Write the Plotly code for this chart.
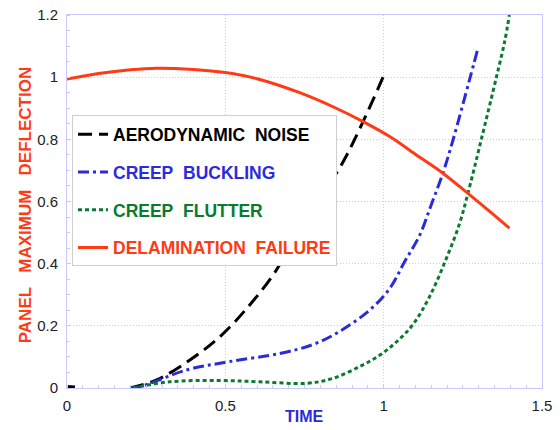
import plotly.graph_objects as go

# Aerodynamic noise (black long dash)
noise_x = [0.0, 0.025, None, 0.199, 0.283, 0.388, 0.483, 0.577, 0.651, 0.693, 0.766, 0.866, 0.935, 0.998]
noise_y = [0.005, 0.003, None, 0.0, 0.026, 0.090, 0.165, 0.267, 0.364, 0.433, 0.560, 0.717, 0.857, 1.0]

# Creep buckling (blue dash-dot)
buck_x = [0.20, 0.23, 0.378, 0.514, 0.672, 0.777, 0.861, 0.956, 1.019, 1.066, 1.114, 1.15, 1.187, 1.219, 1.271, 1.297]
buck_y = [0.0, 0.004, 0.058, 0.085, 0.111, 0.140, 0.182, 0.251, 0.320, 0.406, 0.492, 0.589, 0.691, 0.798, 0.991, 1.09]

# Creep flutter (green dotted)
flut_x = [0.209, 0.325, 0.483, 0.609, 0.756, 0.84, 0.924, 0.987, 1.04, 1.093, 1.145, 1.198, 1.24, 1.266, 1.308, 1.356, 1.382, 1.397]
flut_y = [0.0, 0.020, 0.024, 0.020, 0.015, 0.031, 0.069, 0.105, 0.148, 0.205, 0.294, 0.417, 0.530, 0.626, 0.798, 1.0, 1.114, 1.2]

# Delamination failure (red solid)
dela_x = [0.0, 0.1, 0.2, 0.283, 0.4, 0.5, 0.6, 0.735, 0.85, 0.935, 1.019, 1.1, 1.187, 1.266, 1.33, 1.397]
dela_y = [0.994, 1.012, 1.024, 1.029, 1.025, 1.015, 0.995, 0.950, 0.900, 0.857, 0.809, 0.752, 0.691, 0.626, 0.572, 0.514]

x_ticks = [0, 0.5, 1, 1.5]
y_ticks = [0, 0.2, 0.4, 0.6, 0.8, 1.0, 1.2]
y_tick_text = ["0", "0.2", "0.4", "0.6", "0.8", "1", "1.2"]
x_tick_text = ["0", "0.5", "1", "1.5"]

BLACK = "#000000"
BLUE = "#2b2bd9"
GREEN = "#0a7a2f"
RED = "#ff3a14"
GRID = "#c8c8ff"
FONT = "Liberation Sans, Arial, sans-serif"

fig = go.Figure()
fig.add_trace(go.Scatter(x=noise_x, y=noise_y, mode="lines", connectgaps=False, line_shape="spline",
                         line=dict(color=BLACK, width=3, dash="14px,7px"),
                         name="<span style='color:%s'>AERODYNAMIC&nbsp; NOISE</span>" % BLACK,
                         legendgroup="a"))
fig.add_trace(go.Scatter(x=buck_x, y=buck_y, mode="lines", line_shape="spline",
                         line=dict(color=BLUE, width=3, dash="11px,4px,3px,4px"),
                         name="<span style='color:%s'>CREEP&nbsp; BUCKLING</span>" % BLUE,
                         legendgroup="b"))
fig.add_trace(go.Scatter(x=flut_x, y=flut_y, mode="lines", line_shape="spline",
                         line=dict(color=GREEN, width=3, dash="4px,3px"),
                         name="<span style='color:%s'>CREEP&nbsp; FLUTTER</span>" % GREEN,
                         legendgroup="c"))
fig.add_trace(go.Scatter(x=dela_x, y=dela_y, mode="lines", line_shape="spline",
                         line=dict(color=RED, width=3),
                         name="<span style='color:%s'>DELAMINATION&nbsp; FAILURE</span>" % RED,
                         legendgroup="d"))

axis_common = dict(
    showgrid=True, gridcolor=GRID, griddash="1px,2px", gridwidth=1,
    showline=True, linecolor=GRID, linewidth=1, mirror=True,
    zeroline=False, ticks="", automargin=False, ticklabeloverflow="allow",
    tickfont=dict(family=FONT, size=15, color="#222222"),
    minor=dict(ticks="inside", ticklen=3, tickcolor=GRID, dtick=0.05, showgrid=False),
)

fig.update_layout(
    width=560, height=430,
    margin=dict(l=67, r=18, t=15, b=42),
    paper_bgcolor="white", plot_bgcolor="white",
    showlegend=True,
    legend=dict(x=0.0105, y=0.731, xanchor="left", yanchor="top",
                bgcolor="white", bordercolor="#cfcfcf", borderwidth=1,
                font=dict(family=FONT, size=17.5, color="black", weight="bold"),
                traceorder="grouped", tracegroupgap=12, itemwidth=30),
    xaxis=dict(range=[0, 1.5], tickvals=x_ticks, ticktext=x_tick_text, ticklabelstandoff=4,
               **axis_common),
    yaxis=dict(range=[0, 1.2], tickvals=y_ticks, ticktext=y_tick_text, ticklabelstandoff=5,
               **axis_common),
    annotations=[
        dict(text="<b>TIME</b>", xref="paper", yref="paper", x=0.5, y=0, yshift=-28,
             xanchor="center", yanchor="middle", showarrow=False,
             font=dict(family=FONT, size=16, color=BLUE)),
        dict(text="<b>PANEL&nbsp;&nbsp; MAXIMUM&nbsp;&nbsp; DEFLECTION</b>", xref="paper", yref="paper",
             x=0, xshift=-42, y=0.49, textangle=-90, xanchor="center", yanchor="middle",
             showarrow=False, font=dict(family=FONT, size=17, color=RED)),
    ],
)

fig.write_html("out.html", config={"displayModeBar": False},
               post_script="document.body.style.margin='0';")
